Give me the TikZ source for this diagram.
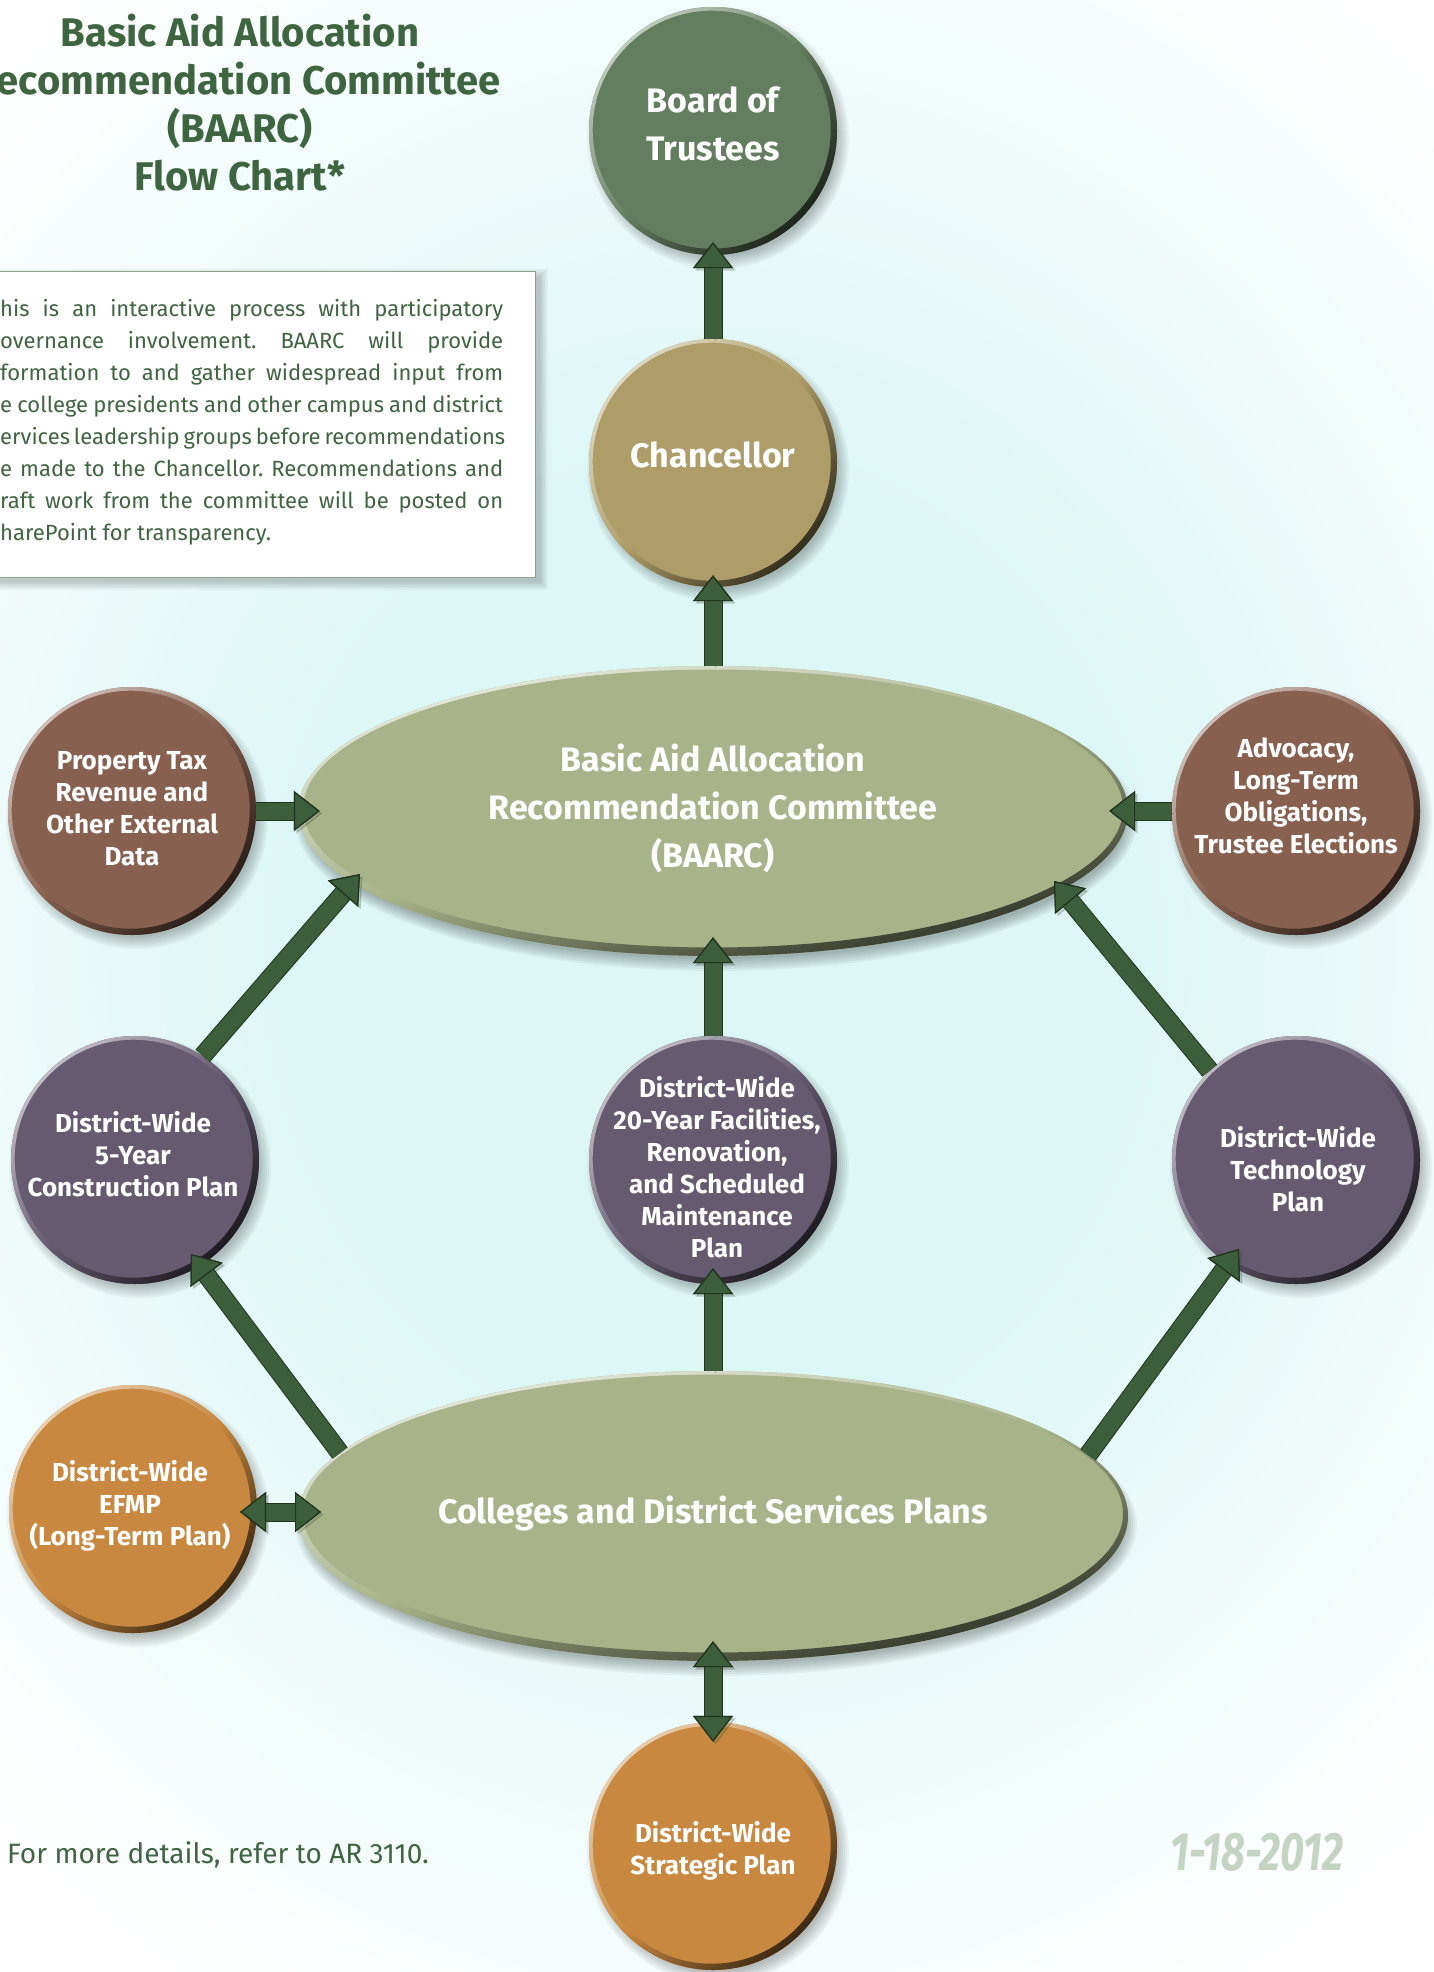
\documentclass[tikz,border=0pt]{standalone}
\usepackage{fontspec}
\usepackage{graphicx}
\setmainfont{Fira Sans}
\usetikzlibrary{shapes.geometric,arrows.meta,calc}
\definecolor{botc}{HTML}{637E5F}
\definecolor{chanc}{HTML}{AE9D68}
\definecolor{ovalc}{HTML}{A8B38A}
\definecolor{brownc}{HTML}{87604F}
\definecolor{purpc}{HTML}{655A6F}
\definecolor{orangec}{HTML}{C8883F}
\definecolor{arrowc}{HTML}{3C5E3A}
\definecolor{titlec}{HTML}{3E6440}
\definecolor{datec}{HTML}{C4D4C3}
\definecolor{bgc}{HTML}{DCF7F6}
\definecolor{boxline}{HTML}{8CA38C}
\pgfdeclareradialshading{bgshade}{\pgfpoint{0bp}{0bp}}{color(0bp)=(bgc); color(9bp)=(bgc); color(23bp)=(white); color(50bp)=(white)}
\frenchspacing

\newcommand\mybubble[4]{%
  \foreach \k in {0,...,6}{\fill[black,opacity=0.04] (#2+5,#3+7) circle[radius={(131-2*\k)*1pt}];}
  \node[ball=#4] (#1) at (#2,#3) {};
  \shade[even odd rule, top color=#4!40!white, bottom color=#4!30!black, middle color=#4, shading angle=45]
     (#1.center) circle[radius=124pt] ($(#1.center)+(-1.3,-1.3)$) circle[radius=119pt];
}
\newcommand\myoval[3]{%
  \foreach \k in {0,...,6}{\fill[black,opacity=0.045] (#2+3,#3+9) ellipse[x radius={(421-2*\k)*1pt}, y radius={(151-2*\k)*1pt}];}
  \node[oval] (#1) at (#2,#3) {};
  \shade[even odd rule, top color=ovalc!25!white, bottom color=ovalc!25!black, middle color=ovalc, shading angle=15]
     (#1.center) ellipse[x radius=415pt, y radius=145pt] ($(#1.center)+(0,-2.5)$) ellipse[x radius=410pt, y radius=139pt];
}

\begin{document}
\begin{tikzpicture}[x=1pt,y=-1pt,
  arrtip/.tip={Triangle[length=26pt,width=40pt,line width=1.2pt,fill=arrowc,color=arrowc!55!black]},
  ball/.style={circle, minimum size=248pt, inner sep=0pt, fill=#1},
  oval/.style={ellipse, minimum width=830pt, minimum height=290pt, inner sep=0pt, fill=ovalc},
  arrbase/.style={draw=arrowc, line width=17pt,
     preaction={draw=black, opacity=0.2, transform canvas={xshift=2.5pt,yshift=-2.5pt}},
     preaction={draw=arrowc!55!black, line width=19pt}},
  arr/.style={arrbase, -arrtip},
  darr/.style={arrbase, arrtip-arrtip},
  bigtxt/.style={text=white, font=\bfseries\fontsize{34}{48}\selectfont, align=center, inner sep=0},
  smalltxt/.style={text=white, font=\bfseries\fontsize{26}{32}\selectfont, align=center, inner sep=0},
  titlefont/.style={text=titlec, font=\bfseries\fontsize{40}{48}\selectfont, inner sep=0},
  para/.style={text=titlec, font=\fontsize{22}{32}\selectfont, inner sep=0, anchor=base west}]
\useasboundingbox (0,0) rectangle (1434,1972);
\clip (0,0) rectangle (1434,1972);
\fill[white] (0,0) rectangle (1434,1972);
\shade[shading=bgshade] (713,950) ellipse[x radius=1150pt, y radius=1300pt];

% title
\node[titlefont, anchor=base] (t1) at (240,47) {Basic Aid Allocation};
\node[titlefont, anchor=base east] (t2) at (501,95) {ecommendation Committee};
\node[titlefont, anchor=base] (t3) at (240,143) {(BAARC)};
\node[titlefont, anchor=base] (t4) at (240,190) {Flow Chart*};

% text box
\foreach \k in {0,...,5}{\fill[black,opacity=0.035] (-20,{276-(5-\k)*1.5}) rectangle ({540+(5-\k)*1.5},{582+(5-\k)*1.5});}
\node[draw=boxline, line width=1.2pt, fill=white, anchor=north west, minimum width=555pt, minimum height=306pt, inner sep=0] (box) at (-20,271) {};
\node[para] (p1) at (0,316) {\makebox[503pt][s]{his is an interactive process with participatory}};
\node[para] (p2) at (0,348) {\makebox[503pt][s]{overnance involvement. BAARC will provide}};
\node[para] (p3) at (0,380) {\makebox[503pt][s]{formation to and gather widespread input from}};
\node[para] (p4) at (0,412) {\makebox[503pt][s]{e college presidents and other campus and district}};
\node[para] (p5) at (0,444) {\makebox[503pt][s]{ervices leadership groups before recommendations}};
\node[para] (p6) at (0,476) {\makebox[503pt][s]{e made to the Chancellor. Recommendations and}};
\node[para] (p7) at (0,508) {\makebox[503pt][s]{raft work from the committee will be posted on}};
\node[para] (p8) at (0,540) {harePoint for transparency.};

% footnote and date
\node[para, font=\fontsize{28}{32}\selectfont] (foot) at (7,1863) {For more details, refer to AR 3110.};
\node[text=datec, anchor=base, inner sep=0] (date) at (1257,1870) {\scalebox{0.77}[1]{\bfseries\itshape\fontsize{54}{54}\selectfont 1-18-2012}};

% shapes
\mybubble{bot}{713}{131}{botc}
\mybubble{chan}{713}{463}{chanc}
\myoval{baarc}{713}{811}
\mybubble{prop}{132}{811}{brownc}
\mybubble{advo}{1296}{811}{brownc}
\mybubble{yfive}{135}{1160}{purpc}
\mybubble{ytwenty}{713}{1160}{purpc}
\mybubble{tech}{1296}{1160}{purpc}
\myoval{coll}{713}{1516}
\mybubble{efmp}{133}{1509}{orangec}
\mybubble{strat}{713}{1846}{orangec}

% texts
\node[bigtxt] (botT) at (713,124) {Board of\\Trustees};
\node[bigtxt] (chanT) at (713,455) {Chancellor};
\node[bigtxt] (baarcT) at (713,808) {Basic Aid Allocation\\Recommendation Committee\\(BAARC)};
\node[bigtxt] (collT) at (713,1513) {Colleges and District Services Plans};
\node[smalltxt] (propT) at (132,809) {Property Tax\\Revenue and\\Other External\\Data};
\node[smalltxt] (advoT) at (1296,796) {Advocacy,\\Long-Term\\Obligations,\\Trustee Elections};
\node[smalltxt] (yfiveT) at (133,1154) {District-Wide\\5-Year\\Construction Plan};
\node[smalltxt] (ytwentyT) at (717,1167) {District-Wide\\20-Year Facilities,\\Renovation,\\and Scheduled\\Maintenance\\Plan};
\node[smalltxt] (techT) at (1298,1169) {District-Wide\\Technology\\Plan};
\node[smalltxt] (efmpT) at (130,1506) {District-Wide\\EFMP\\(Long-Term Plan)};
\node[smalltxt] (stratT) at (713,1851) {District-Wide\\Strategic Plan};

% connectors
\draw[arr] (chan.north) -- ([yshift=13pt]bot.south);
\draw[arr] (baarc.north) -- ([yshift=12pt]chan.south);
\draw[arr] (prop.east) -- ([xshift=22pt]baarc.west);
\draw[arr] (advo.west) -- ([xshift=-19pt]baarc.east);
\draw[arr] (yfive.57) -- ($(baarc.center)+(-353,63)$);
\draw[arr] (tech.134) -- ($(baarc.center)+(341,70)$);
\draw[arr] (ytwenty.north) -- ([yshift=19pt]baarc.south);
\draw[arr] ($(coll.center)+(-373,-63)$) -- ($(yfive.center)+(56,94)$);
\draw[arr] (coll.north) -- ([yshift=16pt]ytwenty.south);
\draw[arr] ($(coll.center)+(375,-61)$) -- ($(tech.center)+(-57,89)$);
\draw[darr] ($(efmp.center)+(107,3)$) -- ($(coll.center)+(-392,-4)$);
\draw[darr] ([yshift=20pt]coll.south) -- ([yshift=-20pt]strat.north);
\end{tikzpicture}
\end{document}
